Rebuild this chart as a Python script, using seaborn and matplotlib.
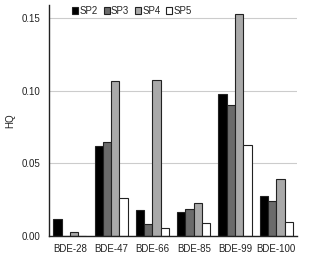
import matplotlib
matplotlib.use("Agg")
import matplotlib.pyplot as plt
import seaborn as sns
import pandas as pd
from matplotlib.patches import Patch

categories = ["BDE-28", "BDE-47", "BDE-66", "BDE-85", "BDE-99", "BDE-100"]
series = ["SP2", "SP3", "SP4", "SP5"]
sp2 = [0.012, 0.062, 0.018, 0.0165, 0.098, 0.0275]
sp3 = [0.0, 0.065, 0.008, 0.0185, 0.090, 0.024]
sp4 = [0.0025, 0.107, 0.1075, 0.023, 0.153, 0.0395]
sp5 = [0.0, 0.026, 0.0055, 0.0092, 0.0625, 0.0098]
colors = ["#000000", "#6b6b6b", "#a9a9a9", "#ffffff"]

rows = []
for s, vals in zip(series, [sp2, sp3, sp4, sp5]):
    for c, v in zip(categories, vals):
        rows.append({"cat": c, "series": s, "HQ": v})
df = pd.DataFrame(rows)

sns.set_style("white")
plt.rcParams['font.family'] = ['Liberation Sans', 'DejaVu Sans']

fig = plt.figure(figsize=(3.09, 2.62), dpi=100)
ax = fig.add_axes([0.159, 0.099, 0.802, 0.882])
sns.barplot(data=df, x="cat", y="HQ", hue="series", palette=colors,
            order=categories, hue_order=series, width=0.8,
            edgecolor="#222222", linewidth=0.8, ax=ax, legend=False)
ax.set_ylim(0, 0.159)
ax.set_yticks([0.0, 0.05, 0.10, 0.15])
ax.set_yticklabels(["0.00", "0.05", "0.10", "0.15"])
ax.yaxis.grid(True, color="#cccccc", linewidth=0.8)
ax.set_axisbelow(True)
ax.set_xlabel("")
ax.set_ylabel("HQ", fontsize=7, labelpad=5, color="#222222")
ax.tick_params(axis="both", labelsize=7, length=0, pad=6, labelcolor="#222222")
for sp in ["top", "right"]:
    ax.spines[sp].set_visible(False)
ax.spines["left"].set_color("#222222")
ax.spines["bottom"].set_color("#222222")
ax.spines["left"].set_linewidth(1.0)
ax.spines["bottom"].set_linewidth(1.0)

handles = [Patch(facecolor=c, edgecolor="#222222", linewidth=0.8) for c in colors]
ax.legend(handles, series, ncol=4, loc="upper center", bbox_to_anchor=(0.335, 1.0),
          frameon=False, fontsize=7, handlelength=0.6, handleheight=0.6,
          handletextpad=0.15, columnspacing=0.6, borderaxespad=0, borderpad=0.1)

fig.savefig("out.png", dpi=100)
